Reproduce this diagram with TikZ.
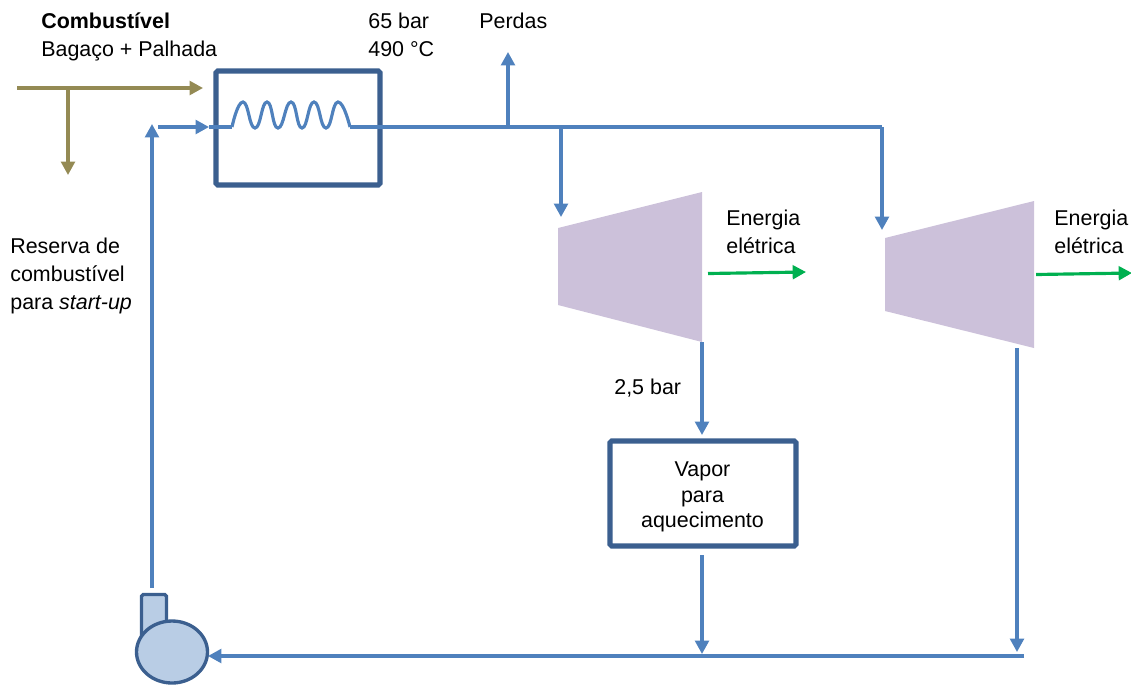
\documentclass[tikz,border=0pt]{standalone}
\usepackage{fontspec}
\setmainfont{Liberation Sans}
\usetikzlibrary{arrows.meta,shapes.geometric}

\definecolor{steamblue}{HTML}{4F81BD}
\definecolor{boxblue}{HTML}{3B5F8F}
\definecolor{pumpblue}{HTML}{B9CDE5}
\definecolor{fuelolive}{HTML}{948A54}
\definecolor{turbinelilac}{HTML}{CCC1DA}
\definecolor{powergreen}{HTML}{00B050}

\tikzset{
  steam/.style={draw=steamblue, line width=1.8pt},
  steamarrow/.style={steam, -{Triangle[length=7.6pt,width=7.8pt]}},
  fuelarrow/.style={draw=fuelolive, line width=1.8pt, -{Triangle[length=7.6pt,width=7.8pt]}},
  powerarrow/.style={draw=powergreen, line width=1.8pt, -{Triangle[length=7.6pt,width=7.8pt]}},
  unitbox/.style={rectangle, draw=boxblue, line width=2.9pt, rounded corners=1pt},
  label/.style={inner sep=0pt, anchor=base west, font=\fontsize{12.2}{15.9}\selectfont},
  labelblock/.style={inner sep=0pt, anchor=west, align=left, font=\fontsize{12.2}{15.9}\selectfont},
  turbine/.style={fill=turbinelilac, draw=none},
}

\begin{document}
\begin{tikzpicture}[x=0.02cm, y=-0.02cm]
  \useasboundingbox (0,0) rectangle (1131,684);

  % labels
  \node[label] (fuel) at (41,28) {\textbf{Combustível}};
  \node[label] (fuelmix) at (41,56.5) {Bagaço + Palhada};
  \node[label] (pressure) at (368,28) {65 bar};
  \node[label] (temperature) at (368,56.5) {490 °C};
  \node[label] (losses) at (479,28) {Perdas};
  \node[labelblock] (reserve) at (10,276) {Reserva de\\combustível\\para \textit{start-up}};
  \node[labelblock] (powerlabela) at (726,232) {Energia\\elétrica};
  \node[labelblock] (powerlabelb) at (1054,232) {Energia\\elétrica};
  \node[label] (lowpressure) at (614,394) {2,5 bar};

  % boiler and heating load
  \node[unitbox, minimum width=3.28cm, minimum height=2.28cm] (boiler) at (298,128) {};
  \node[unitbox, minimum width=3.72cm, minimum height=2.1cm] (heating) at (703,493.5) {};
  \node[align=center, inner sep=0pt, font=\fontsize{12.2}{14.4}\selectfont] (heatinglabel) at (702.5,497) {Vapor\\para\\aquecimento};

  % turbines
  \draw[turbine] (558,228) -- (702,192) -- (702,342) -- (558,305) -- cycle;
  \draw[turbine] (885,238) -- (1034,201) -- (1034,348) -- (885,311) -- cycle;

  % pump
  \node[rectangle, draw=boxblue, fill=pumpblue, line width=1.9pt, rounded corners=1pt, minimum width=0.5cm, minimum height=0.9cm] (pumphead) at (154,617) {};
  \node[ellipse, draw=boxblue, fill=pumpblue, line width=1.9pt, minimum width=1.42cm, minimum height=1.24cm, inner sep=0pt] (pump) at (172,652) {};

  \coordinate (fuelin) at (17,88);
  \coordinate (fuelend) at (203,88);
  \coordinate (fueltee) at (68,88);
  \coordinate (fueldown) at (68,175);
  \coordinate (pumpout) at (152,588);
  \coordinate (riser) at (152,124);
  \coordinate (feed) at (158,127);
  \coordinate (feedend) at (209,127);
  \coordinate (coilin) at (232,127);
  \coordinate (coilout) at (350,127);
  \coordinate (mainend) at (882,127);
  \coordinate (lossestee) at (508,127);
  \coordinate (lossesend) at (508,52);
  \coordinate (teea) at (561,127);
  \coordinate (turbineina) at (561,217);
  \coordinate (turbineinb) at (882,230);
  \coordinate (exhausta) at (702,342);
  \coordinate (heatingin) at (702,435);
  \coordinate (heatingout) at (702,555);
  \coordinate (returna) at (702,654);
  \coordinate (exhaustb) at (1017,348);
  \coordinate (returnb) at (1017,652);
  \coordinate (returnstart) at (1024,656);
  \coordinate (pumpin) at (208,656);

  % fuel
  \draw[fuelarrow] (fuelin) -- (fuelend);
  \draw[fuelarrow] (fueltee) -- (fueldown);

  % water and steam
  \draw[steamarrow] (pumpout) -- (riser);
  \draw[steamarrow] (feed) -- (feedend);
  \draw[steam] (feedend) -- (coilin);
  \draw[steam] plot[smooth, tension=.9] coordinates {(coilin) (243,102) (255,128) (267,102) (278,128) (291,102) (302,128) (314,102) (326,128) (338,102) (coilout)};
  \draw[steam] (coilout) -- (mainend);
  \draw[steamarrow] (mainend) -- (turbineinb);
  \draw[steamarrow] (lossestee) -- (lossesend);
  \draw[steamarrow] (teea) -- (turbineina);
  \draw[steamarrow] (exhausta) -- (heatingin);
  \draw[steamarrow] (heatingout) -- (returna);
  \draw[steamarrow] (exhaustb) -- (returnb);
  \draw[steamarrow] (returnstart) -- (pumpin);

  % electric power
  \draw[powerarrow] (708,273.5) -- (806,272);
  \draw[powerarrow] (1036,274.5) -- (1132,273);
\end{tikzpicture}
\end{document}
